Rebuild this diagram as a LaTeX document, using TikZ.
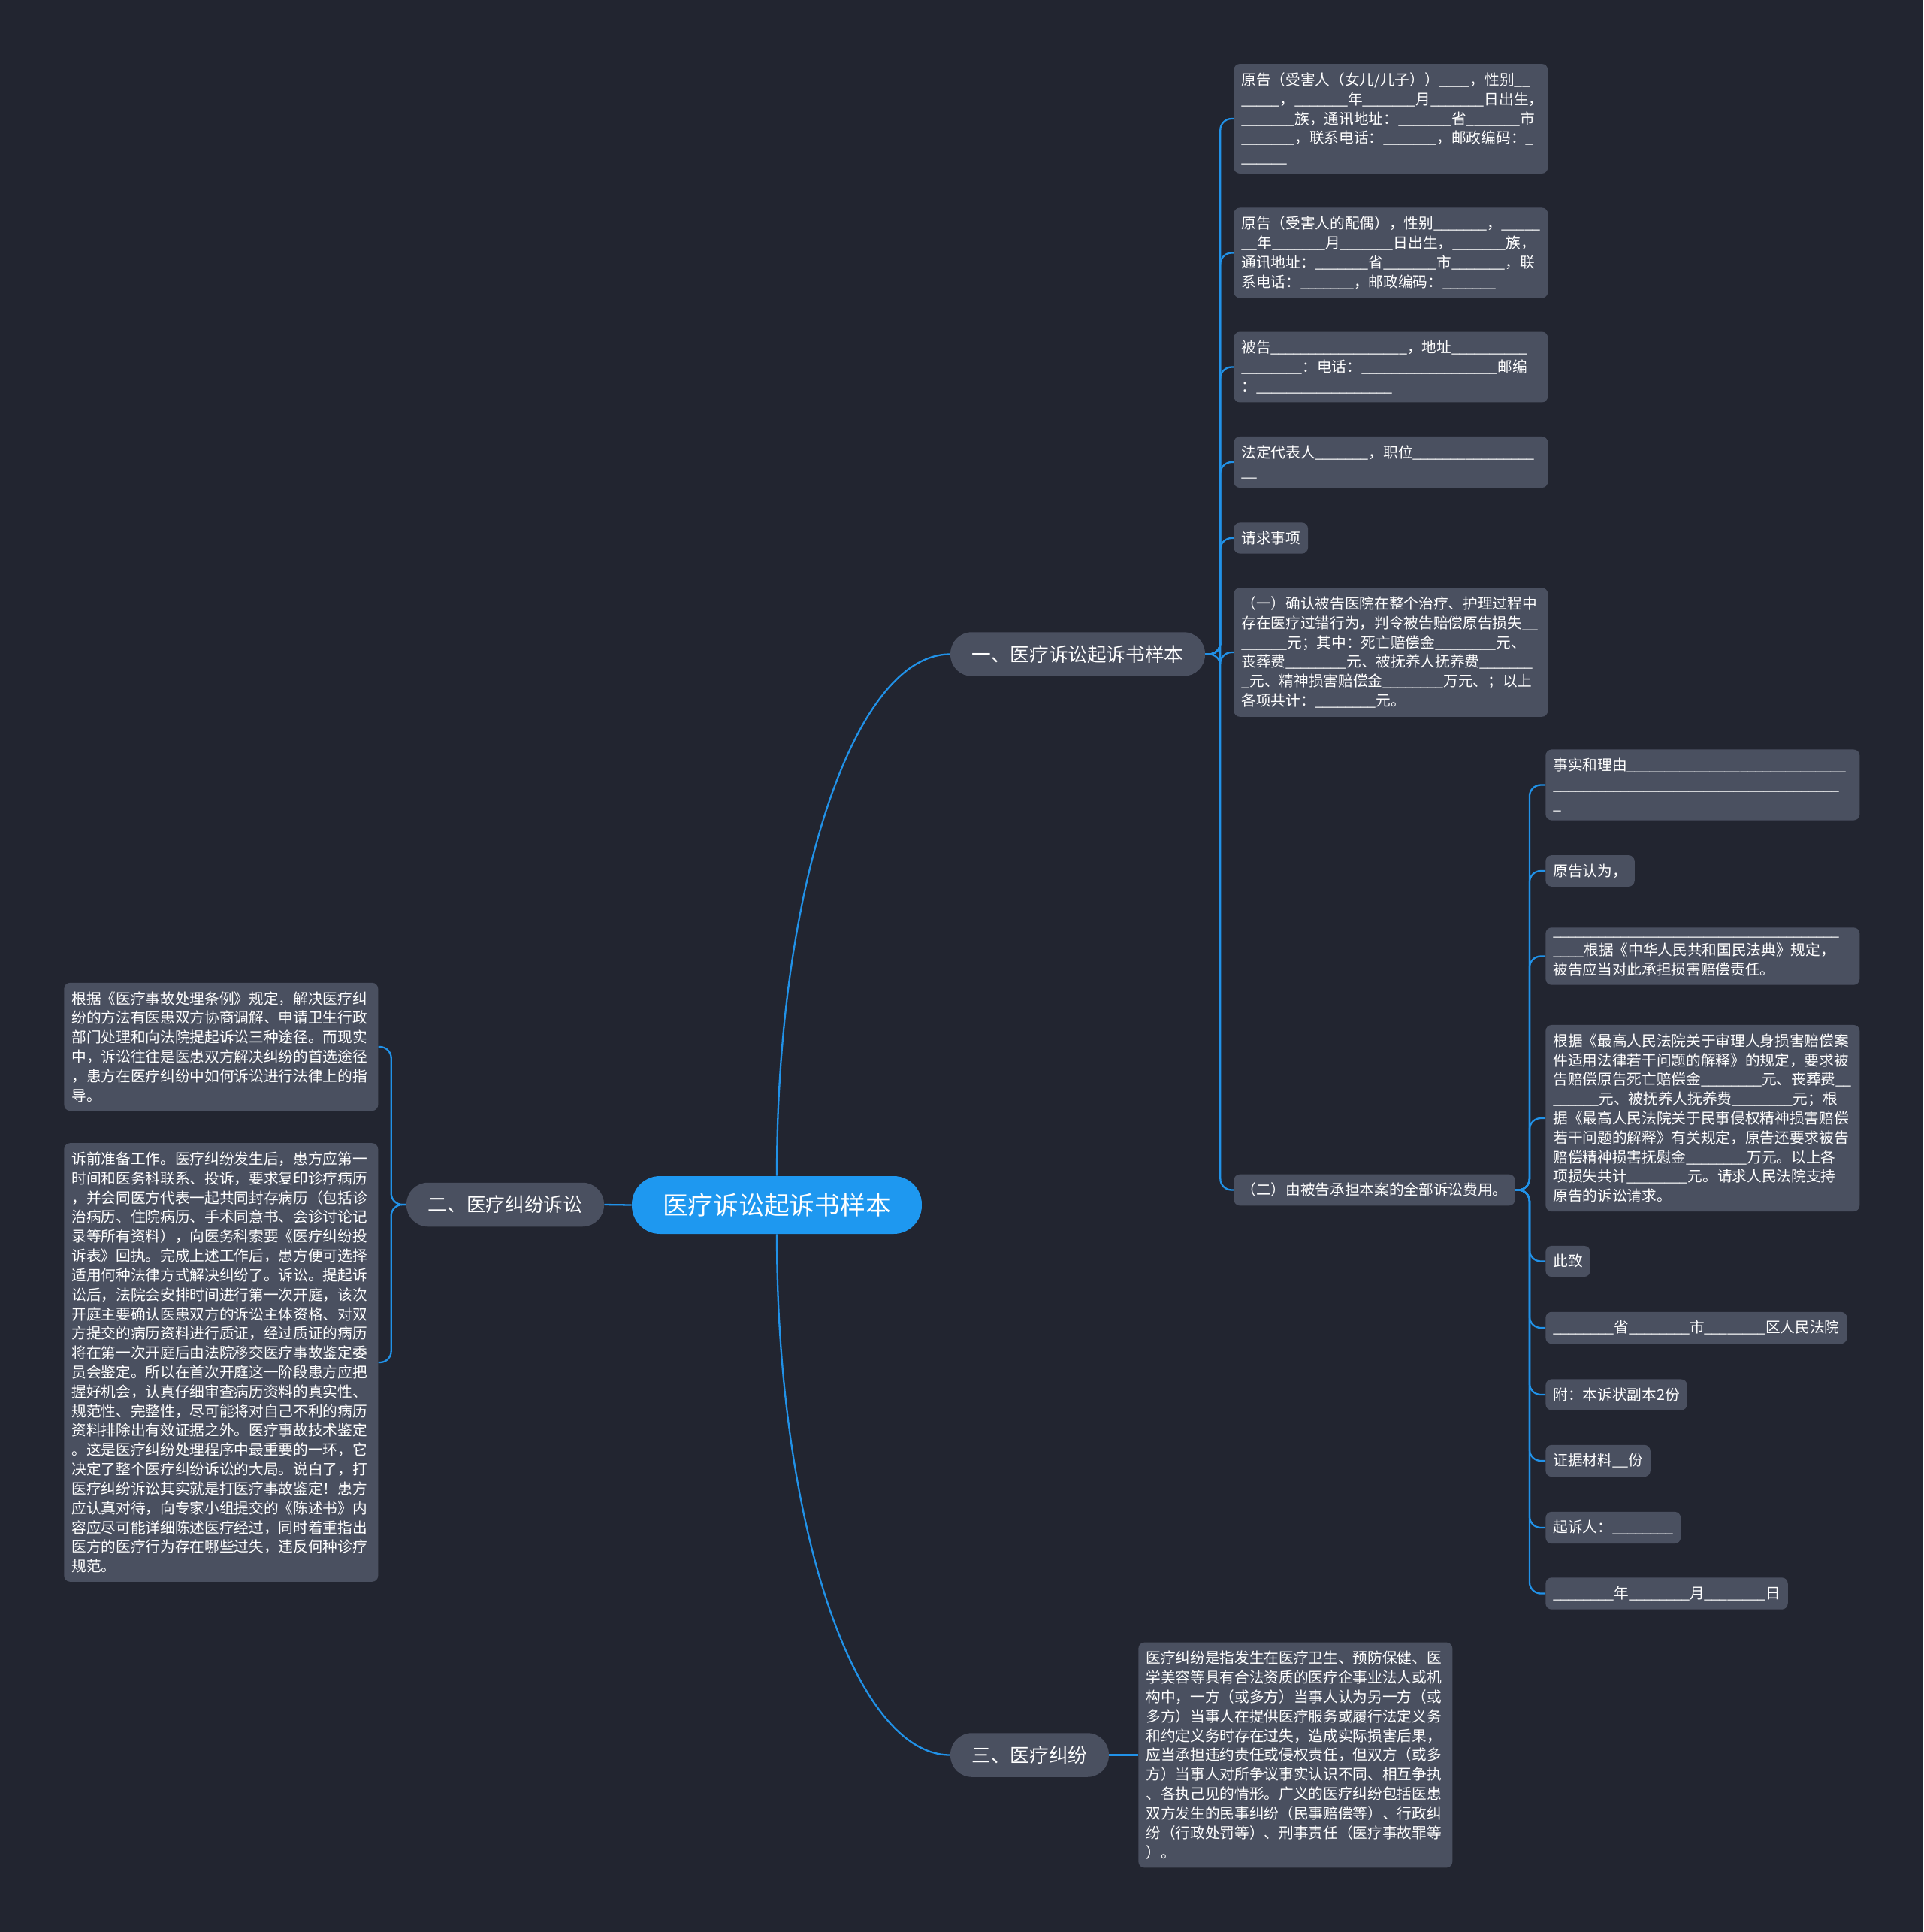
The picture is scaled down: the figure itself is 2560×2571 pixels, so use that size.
\documentclass[tikz,border=0pt]{standalone}
\usepackage{fontspec}
\setmainfont{Noto Sans CJK SC}
\usepackage{tikz}
\ExplSyntaxOn
\NewDocumentCommand\fillin{m}{\prg_replicate:nn{#1}{\_\kern-0.05em}\kern0.05em}
\ExplSyntaxOff
\definecolor{bgNavy}{RGB}{34,37,48}
\definecolor{boxGray}{RGB}{74,80,96}
\definecolor{linkBlue}{RGB}{33,146,232}
\definecolor{rootBlue}{RGB}{30,152,240}
\tikzset{
  leaf/.style={fill=boxGray, text=white, rounded corners=0.16cm, inner xsep=0.2cm,
    inner ysep=0.23cm, anchor=west, align=left, font=\fontsize{11.2}{14.7}\selectfont},
  wideleaf/.style={leaf, text width=7.96cm},
  branch/.style={fill=boxGray, text=white, rounded corners=0.57cm, minimum height=1.17cm,
    inner sep=0pt, font=\fontsize{14.6}{17}\selectfont},
  rootnode/.style={fill=rootBlue, text=white, rounded corners=0.75cm, minimum width=7.72cm,
    minimum height=1.54cm, inner sep=0pt, font=\fontsize{19.2}{22}\selectfont},
  link/.style={draw=linkBlue, line width=1.3pt},
}

\begin{document}
\begin{tikzpicture}[x=0.02cm, y=-0.02cm]
  \fill[bgNavy] (0,0) rectangle (2560,2571);
  \useasboundingbox (0,0) rectangle (2560,2571);

  % centre and main branches
  \node[rootnode] (root) at (1034,1603.5) {医疗诉讼起诉书样本};
  \node[branch, minimum width=6.78cm] (b1) at (1434.5,870.5) {一、医疗诉讼起诉书样本};
  \node[branch, minimum width=5.26cm] (b2) at (672.5,1603) {二、医疗纠纷诉讼};
  \node[branch, minimum width=4.22cm] (b3) at (1370.5,2335.5) {三、医疗纠纷};

  % branch one
  \node[wideleaf] (l1) at (1642,158) {原告（受害人（女儿/儿子））\fillin{4}，性别\fillin{2}\\
    \fillin{5}，\fillin{7}年\fillin{7}月\fillin{7}日出生，\\
    \fillin{7}族，通讯地址：\fillin{7}省\fillin{7}市\\
    \fillin{7}，联系电话：\fillin{7}，邮政编码：\fillin{1}\\
    \fillin{6}};
  \node[wideleaf] (l2) at (1642,336.5) {原告（受害人的配偶），性别\fillin{7}，\fillin{5}\\
    \fillin{2}年\fillin{7}月\fillin{7}日出生，\fillin{7}族，\\
    通讯地址：\fillin{7}省\fillin{7}市\fillin{7}，联\\
    系电话：\fillin{7}，邮政编码：\fillin{7}};
  \node[wideleaf] (l3) at (1642,488.5) {被告\fillin{18}，地址\fillin{10}\\
    \fillin{8}：电话：\fillin{18}邮编\\
    ：\fillin{18}};
  \node[wideleaf] (l4) at (1642,615) {法定代表人\fillin{7}，职位\fillin{16}\\
    \fillin{2}};
  \node[leaf] (l5) at (1642,716) {请求事项};
  \node[wideleaf] (l6) at (1642,868) {（一）确认被告医院在整个治疗、护理过程中\\
    存在医疗过错行为，判令被告赔偿原告损失\fillin{2}\\
    \fillin{6}元；其中：死亡赔偿金\fillin{8}元、\\
    丧葬费\fillin{8}元、被抚养人抚养费\fillin{7}\\
    \fillin{1}元、精神损害赔偿金\fillin{8}万元、；以上\\
    各项共计：\fillin{8}元。};
  \node[leaf] (l7) at (1642,1583.5) {（二）由被告承担本案的全部诉讼费用。};

  % under (二)
  \node[wideleaf] (s1) at (2057,1044.5) {事实和理由\fillin{29}\\
    \fillin{38}\\
    \fillin{1}};
  \node[leaf] (s2) at (2057,1159) {原告认为，};
  \node[wideleaf] (s3) at (2057,1272.5) {\fillin{38}\\
    \fillin{4}根据《中华人民共和国民法典》规定，\\
    被告应当对此承担损害赔偿责任。};
  \node[wideleaf] (s4) at (2057,1488) {根据《最高人民法院关于审理人身损害赔偿案\\
    件适用法律若干问题的解释》的规定，要求被\\
    告赔偿原告死亡赔偿金\fillin{8}元、丧葬费\fillin{2}\\
    \fillin{6}元、被抚养人抚养费\fillin{8}元；根\\
    据《最高人民法院关于民事侵权精神损害赔偿\\
    若干问题的解释》有关规定，原告还要求被告\\
    赔偿精神损害抚慰金\fillin{8}万元。以上各\\
    项损失共计\fillin{8}元。请求人民法院支持\\
    原告的诉讼请求。};
  \node[leaf] (s5) at (2057,1678.5) {此致};
  \node[leaf] (s6) at (2057,1767) {\fillin{8}省\fillin{8}市\fillin{8}区人民法院};
  \node[leaf] (s7) at (2057,1856) {附：本诉状副本2份};
  \node[leaf] (s8) at (2057,1944) {证据材料\fillin{2}份};
  \node[leaf] (s9) at (2057,2033) {起诉人：\fillin{8}};
  \node[leaf] (s10) at (2057,2120.5) {\fillin{8}年\fillin{8}月\fillin{8}日};

  % branch two
  \node[wideleaf] (t1) at (85,1393) {根据《医疗事故处理条例》规定，解决医疗纠\\
    纷的方法有医患双方协商调解、申请卫生行政\\
    部门处理和向法院提起诉讼三种途径。而现实\\
    中，诉讼往往是医患双方解决纠纷的首选途径\\
    ，患方在医疗纠纷中如何诉讼进行法律上的指\\
    导。};
  \node[wideleaf] (t2) at (85,1813) {诉前准备工作。医疗纠纷发生后，患方应第一\\
    时间和医务科联系、投诉，要求复印诊疗病历\\
    ，并会同医方代表一起共同封存病历（包括诊\\
    治病历、住院病历、手术同意书、会诊讨论记\\
    录等所有资料），向医务科索要《医疗纠纷投\\
    诉表》回执。完成上述工作后，患方便可选择\\
    适用何种法律方式解决纠纷了。诉讼。提起诉\\
    讼后，法院会安排时间进行第一次开庭，该次\\
    开庭主要确认医患双方的诉讼主体资格、对双\\
    方提交的病历资料进行质证，经过质证的病历\\
    将在第一次开庭后由法院移交医疗事故鉴定委\\
    员会鉴定。所以在首次开庭这一阶段患方应把\\
    握好机会，认真仔细审查病历资料的真实性、\\
    规范性、完整性，尽可能将对自己不利的病历\\
    资料排除出有效证据之外。医疗事故技术鉴定\\
    。这是医疗纠纷处理程序中最重要的一环，它\\
    决定了整个医疗纠纷诉讼的大局。说白了，打\\
    医疗纠纷诉讼其实就是打医疗事故鉴定！患方\\
    应认真对待，向专家小组提交的《陈述书》内\\
    容应尽可能详细陈述医疗经过，同时着重指出\\
    医方的医疗行为存在哪些过失，违反何种诊疗\\
    规范。};

  % branch three
  \node[wideleaf] (u1) at (1515,2335.5) {医疗纠纷是指发生在医疗卫生、预防保健、医\\
    学美容等具有合法资质的医疗企事业法人或机\\
    构中，一方（或多方）当事人认为另一方（或\\
    多方）当事人在提供医疗服务或履行法定义务\\
    和约定义务时存在过失，造成实际损害后果，\\
    应当承担违约责任或侵权责任，但双方（或多\\
    方）当事人对所争议事实认识不同、相互争执\\
    、各执己见的情形。广义的医疗纠纷包括医患\\
    双方发生的民事纠纷（民事赔偿等）、行政纠\\
    纷（行政处罚等）、刑事责任（医疗事故罪等\\
    ）。};

  % connectors
  \draw[link] (root.west) -- (b2.east);
  \draw[link] (root.north) .. controls +(0,-384) and +(-128,0) .. (b1.west);
  \draw[link] (root.south) .. controls +(0,383) and +(-128,0) .. (b3.west);
  \draw[link] (b3.east) -- (u1.west);
  \foreach \c in {l1,l2,l3,l4,l5,l6,l7}
    \draw[link, rounded corners=0.3cm] (b1.east) -- ++(20,0) |- (\c.west);
  \foreach \c in {s1,s2,s3,s4,s5,s6,s7,s8,s9,s10}
    \draw[link, rounded corners=0.3cm] (l7.east) -- ++(19,0) |- (\c.west);
  \foreach \c in {t1,t2}
    \draw[link, rounded corners=0.3cm] (b2.west) -- ++(-20,0) |- (\c.east);
\end{tikzpicture}
\end{document}
